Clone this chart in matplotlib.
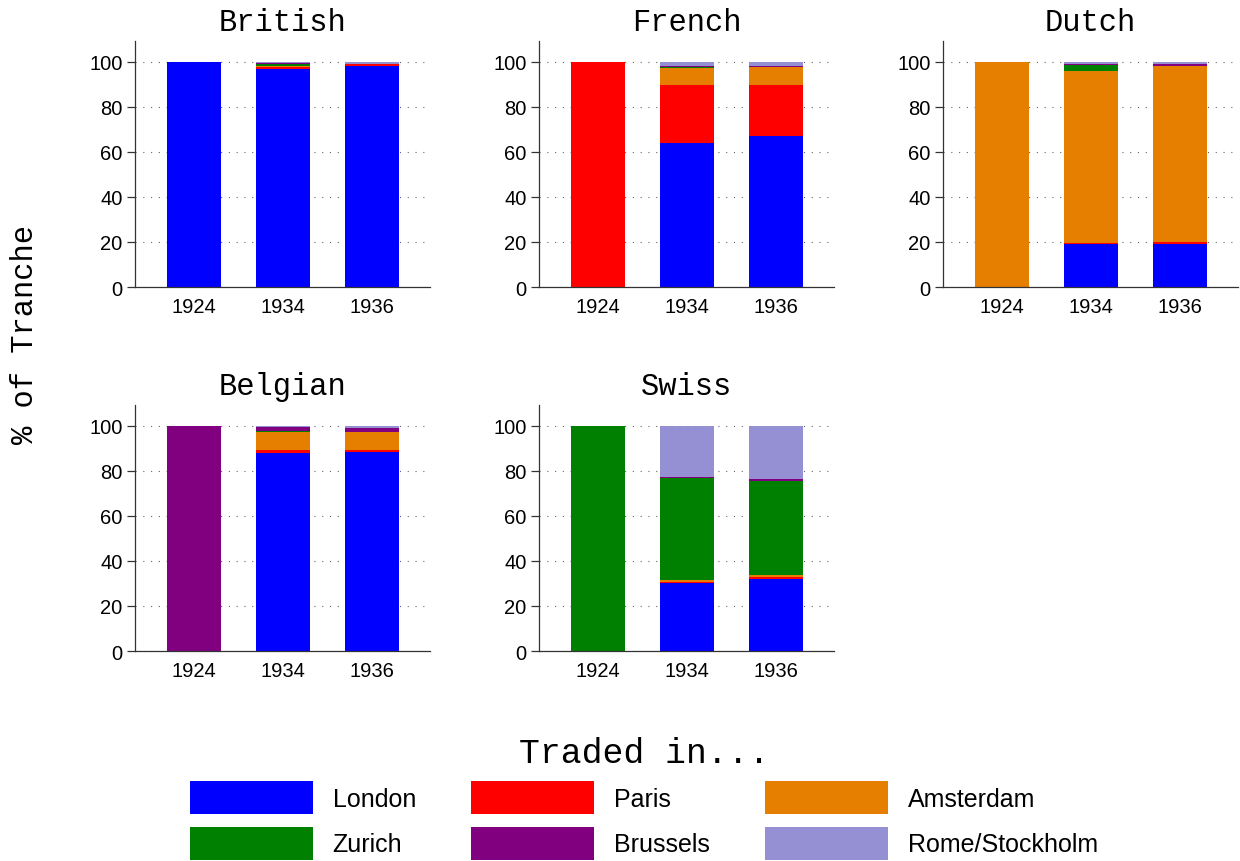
import matplotlib
matplotlib.use("Agg")
import matplotlib.pyplot as plt
import numpy as np

# data: % of tranche traded in each market, per issue year
years = ["1924", "1934", "1936"]
markets = ["London", "Paris", "Amsterdam", "Zurich", "Brussels", "Rome/Stockholm"]
colors = ["#0000FF", "#FF0000", "#E67E00", "#008000", "#800080", "#9490D3"]

british = {
    "London":         [100, 97.0, 98.0],
    "Paris":          [0, 0.8, 1.0],
    "Amsterdam":      [0, 0.5, 0.3],
    "Zurich":         [0, 1.0, 0.0],
    "Brussels":       [0, 0.2, 0.0],
    "Rome/Stockholm": [0, 0.5, 0.7],
}
french = {
    "London":         [0, 64.0, 67.0],
    "Paris":          [100, 25.8, 22.8],
    "Amsterdam":      [0, 7.7, 7.8],
    "Zurich":         [0, 0.4, 0.1],
    "Brussels":       [0, 0.3, 0.3],
    "Rome/Stockholm": [0, 1.8, 2.0],
}
dutch = {
    "London":         [0, 19.0, 19.0],
    "Paris":          [0, 0.4, 1.0],
    "Amsterdam":      [100, 76.7, 78.2],
    "Zurich":         [0, 2.4, 0.0],
    "Brussels":       [0, 0.5, 0.8],
    "Rome/Stockholm": [0, 1.0, 1.0],
}
belgian = {
    "London":         [0, 88.0, 88.5],
    "Paris":          [0, 1.2, 0.9],
    "Amsterdam":      [0, 8.0, 7.7],
    "Zurich":         [0, 0.6, 0.4],
    "Brussels":       [100, 1.7, 1.8],
    "Rome/Stockholm": [0, 0.5, 0.7],
}
swiss = {
    "London":         [0, 30.3, 32.0],
    "Paris":          [0, 0.4, 1.0],
    "Amsterdam":      [0, 0.7, 0.9],
    "Zurich":         [100, 45.4, 41.8],
    "Brussels":       [0, 0.7, 0.75],
    "Rome/Stockholm": [0, 22.4, 23.5],
}

panels = [("British", british), ("French", french), ("Dutch", dutch),
          ("Belgian", belgian), ("Swiss", swiss)]

mono = "Liberation Mono"
sans = "Liberation Sans"

W, H = 1240, 862
fig = plt.figure(figsize=(W / 100, H / 100), dpi=100)

# axes boxes in pixels: (left, bottom-from-top)
col_left = [135, 539, 943]
row_bottom = [288, 652]
ax_w, ax_h = 295, 246

handles = {}
for i, (name, d) in enumerate(panels):
    r, c = divmod(i, 3)
    ax = fig.add_axes([col_left[c] / W, 1 - row_bottom[r] / H, ax_w / W, ax_h / H])
    x = np.arange(len(years))
    bottom = np.zeros(len(years))
    for m, col in zip(markets, colors):
        vals = np.array(d[m], dtype=float)
        b = ax.bar(x, vals, 0.6, bottom=bottom, color=col, linewidth=0, zorder=2, label=m)
        handles[m] = b
        bottom += vals
    ax.set_xlim(-0.66, 2.65)
    ax.set_ylim(0, 109.3)
    ax.set_yticks([0, 20, 40, 60, 80, 100])
    ax.set_xticks(x)
    ax.set_xticklabels(years)
    ax.yaxis.grid(True, linestyle=(0, (1, 6)), linewidth=0.8, color="0.4", zorder=0)
    ax.set_axisbelow(True)
    for s in ["top", "right"]:
        ax.spines[s].set_visible(False)
    for s in ["left", "bottom"]:
        ax.spines[s].set_color("0.2")
        ax.spines[s].set_linewidth(0.9)
    ax.tick_params(axis="y", length=6, width=0.9, color="0.2", pad=3)
    ax.tick_params(axis="x", length=0, pad=7)
    for lab in ax.get_xticklabels() + ax.get_yticklabels():
        lab.set_fontfamily(sans)
        lab.set_fontsize(14.5)
    ax.set_title(name, fontfamily=mono, fontsize=22, pad=8)

fig.text(25 / W, 1 - 335 / H, "% of Tranche", rotation=90, ha="center", va="center",
         fontfamily=mono, fontsize=22)

# legend filled column-wise -> order so rows read London, Paris, Amsterdam / Zurich, Brussels, Rome
order = ["London", "Zurich", "Paris", "Brussels", "Amsterdam", "Rome/Stockholm"]
leg = fig.legend([handles[m] for m in order], order, ncol=3, loc="lower center",
                 bbox_to_anchor=(644 / W, -11 / H), frameon=False,
                 prop={"family": sans, "size": 18}, handlelength=4.9, handleheight=1.65,
                 handletextpad=0.8, columnspacing=2.22, labelspacing=0.5, borderpad=0,
                 title="Traded in...", title_fontproperties={"family": mono, "size": 25})

fig.savefig("out.png", dpi=100)
